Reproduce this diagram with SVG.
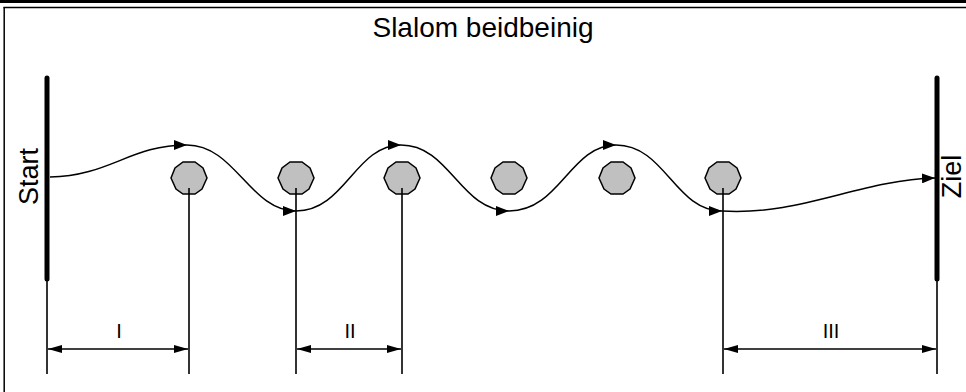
<svg xmlns="http://www.w3.org/2000/svg" width="966" height="392" viewBox="0 0 966 392">
<style>
.txt{font-family:"Liberation Sans",Arial,sans-serif;fill:#000}
.big{font-size:27px}
.num{font-size:20px}
.pole{stroke:#000;stroke-width:5;stroke-linecap:round;fill:none}
.thin{stroke:#000;stroke-width:1.6;fill:none}
.cone{fill:#c0c0c0;stroke:#000;stroke-width:1.5}
.path{stroke:#000;stroke-width:1.5;fill:none;marker-end:url(#ah)}
.dim{stroke:#000;stroke-width:1.5;fill:none;marker-start:url(#dh);marker-end:url(#dh)}
</style>
<defs>
<marker id="ah" markerUnits="userSpaceOnUse" markerWidth="13" markerHeight="10" refX="13" refY="5" orient="auto"><path d="M0,0 L13,5 L0,10 z" fill="#000"/></marker>
<marker id="dh" markerUnits="userSpaceOnUse" markerWidth="14" markerHeight="8" refX="14" refY="4" orient="auto-start-reverse"><path d="M0,0 L14,4 L0,8 z" fill="#000"/></marker>
<polygon id="oct" points="-6,-16 6,-16 14,-10 18,0 13,11 6,16 -6,16 -13,11 -18,0 -14,-10"/>
</defs>
<g id="frame">
<rect x="0" y="0" width="966" height="3" fill="#000"/>
<line x1="3.5" y1="7.5" x2="966" y2="7.5" stroke="#000" stroke-width="1.5"/>
<line x1="4.2" y1="7" x2="4.2" y2="392" stroke="#000" stroke-width="1.5"/>
</g>
<g id="title"><text class="txt" style="font-size:28px" x="483" y="37" text-anchor="middle">Slalom beidbeinig</text></g>
<g id="start">
<line class="pole" x1="47" y1="78" x2="47" y2="279"/>
<line class="thin" x1="47" y1="279" x2="47" y2="374"/>
<text class="txt big" transform="translate(38,176.5) rotate(-90)" text-anchor="middle">Start</text>
</g>
<g id="ziel">
<line class="pole" x1="937" y1="78" x2="937" y2="279"/>
<line class="thin" x1="937" y1="279" x2="937" y2="374"/>
<text class="txt big" transform="translate(961,176.5) rotate(-90)" text-anchor="middle">Ziel</text>
</g>
<g id="cone1"><use href="#oct" class="cone" x="189" y="178"/><line class="thin" x1="189" y1="188" x2="189" y2="374"/></g>
<g id="cone2"><use href="#oct" class="cone" x="296" y="178"/><line class="thin" x1="296" y1="188" x2="296" y2="374"/></g>
<g id="cone3"><use href="#oct" class="cone" x="402" y="178"/><line class="thin" x1="402" y1="188" x2="402" y2="374"/></g>
<g id="cone4"><use href="#oct" class="cone" x="509" y="178"/></g>
<g id="cone5"><use href="#oct" class="cone" x="617" y="178"/></g>
<g id="cone6"><use href="#oct" class="cone" x="723" y="178"/><line class="thin" x1="723" y1="188" x2="723" y2="374"/></g>
<g id="connectors">
<path class="path" d="M50,177 C110,176 130,145 187,145"/>
<path class="path" d="M187,145 C235,145 250,211 296,211"/>
<path class="path" d="M296,211 C345,211 355,145 401,145"/>
<path class="path" d="M401,145 C450,145 460,211 509,211"/>
<path class="path" d="M509,211 C560,211 570,145 616,145"/>
<path class="path" d="M616,145 C665,145 675,211 722,211"/>
<path class="path" d="M722,211 C800,216 860,180 935,178"/>
<line class="dim" x1="48" y1="349" x2="188" y2="349"/>
<line class="dim" x1="297" y1="349" x2="401" y2="349"/>
<line class="dim" x1="724" y1="349" x2="936" y2="349"/>
</g>
<g id="labels">
<text class="txt num" x="119" y="338" text-anchor="middle">I</text>
<text class="txt num" x="350" y="338" text-anchor="middle">II</text>
<text class="txt num" x="831" y="338" text-anchor="middle">III</text>
</g>
</svg>
